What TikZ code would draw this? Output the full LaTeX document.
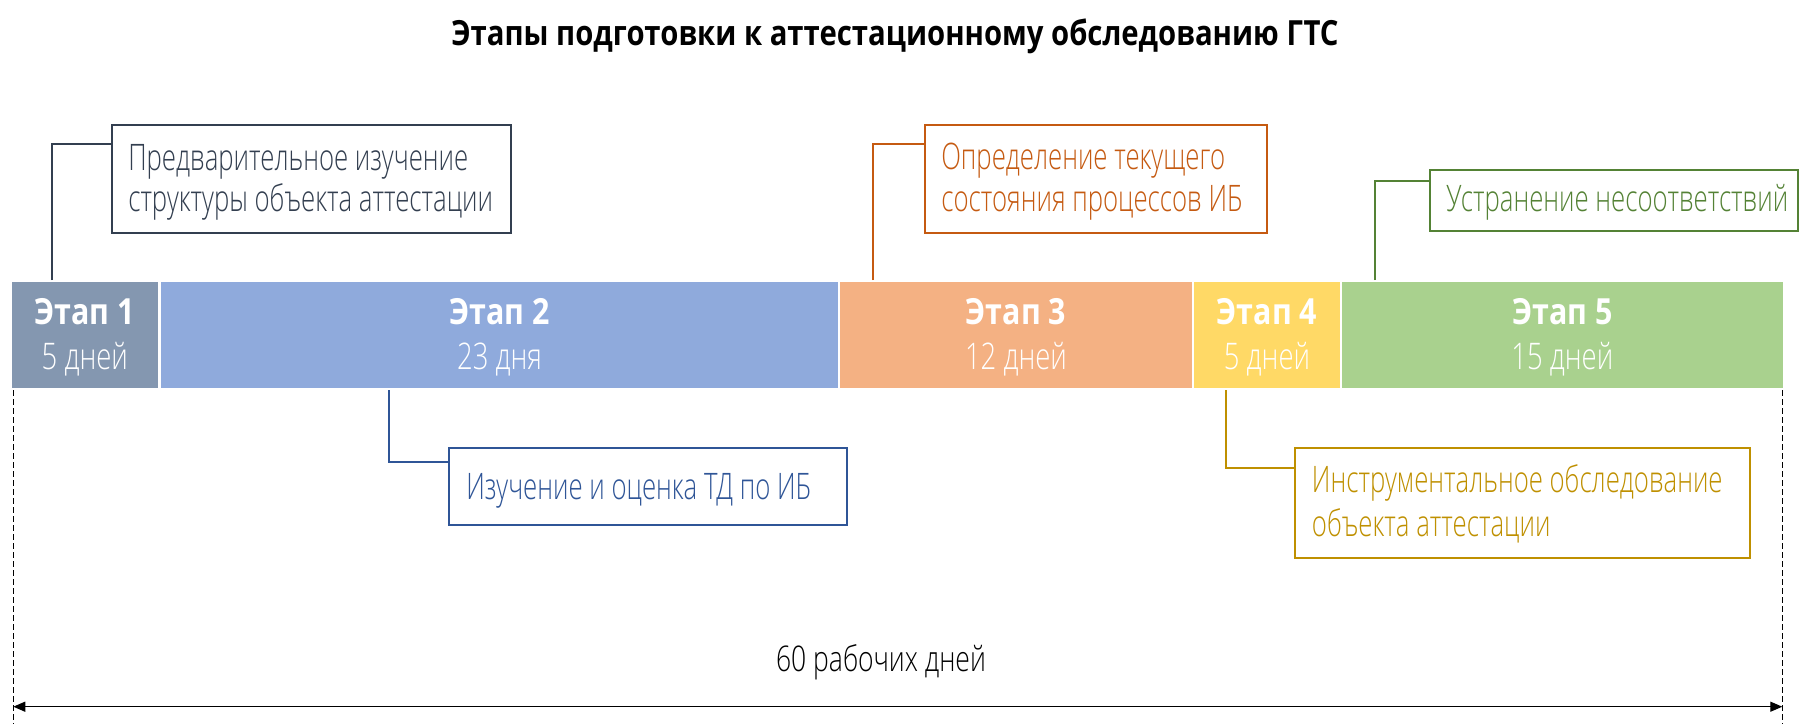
\documentclass[tikz,border=0pt]{standalone}
\usepackage{fontspec}
\setmainfont{Open Sans}
\newfontfamily\lightf{Open Sans}[UprightFont=* Light, FakeStretch=0.705]
\newfontfamily\dayf{Open Sans}[UprightFont=* Light, FakeStretch=0.75]
\newfontfamily\boldf{Open Sans}[FakeStretch=0.845]
\usetikzlibrary{fit,arrows.meta}
\definecolor{st1}{HTML}{8497B0}
\definecolor{st2}{HTML}{8FAADC}
\definecolor{st3}{HTML}{F4B183}
\definecolor{st4}{HTML}{FFD966}
\definecolor{st5}{HTML}{A9D18E}
\definecolor{c1}{HTML}{333F50}
\definecolor{c2}{HTML}{2F5597}
\definecolor{c3}{HTML}{C55A11}
\definecolor{c4}{HTML}{BF9000}
\definecolor{c5}{HTML}{548235}
\begin{document}
\begin{tikzpicture}[x=0.75pt,y=-0.75pt,
  stagebox/.style={inner sep=0pt, draw=none},
  callout/.style={draw, line width=1.6pt, inner sep=0pt, fill=white},
  lab/.style={anchor=base west, inner sep=0pt, font=\lightf\fontsize{27.4}{30}\selectfont},
  sthead/.style={anchor=base, inner sep=0pt, text=white, font=\boldf\bfseries\fontsize{27}{30}\selectfont},
  stdays/.style={anchor=base, inner sep=0pt, text=white, font=\dayf\fontsize{27.5}{30}\selectfont},
  conn/.style={line width=1.5pt},
  dimline/.style={dash pattern=on 4.5pt off 2.25pt, line width=0.75pt, black}
]
\useasboundingbox (0,0) rectangle (1806,724);

% title
\node[anchor=base, inner sep=0pt, font=\boldf\bfseries\fontsize{26}{30}\selectfont] (title) at (895,45.7) {Этапы подготовки к аттестационному обследованию ГТС};

% stages
\node[stagebox, fill=st1, fit={(12,282.3) (157.7,387.5)}] (s1) {};
\node[stagebox, fill=st2, fit={(161,282.3) (838,387.5)}] (s2) {};
\node[stagebox, fill=st3, fit={(840,282.3) (1192,387.5)}] (s3) {};
\node[stagebox, fill=st4, fit={(1194,282.3) (1340,387.5)}] (s4) {};
\node[stagebox, fill=st5, fit={(1342,282.3) (1782.7,387.5)}] (s5) {};

\node[sthead] (s1h) at (s1.center |- 0,324) {Этап 1};
\node[stdays] (s1d) at (s1.center |- 0,369) {5 дней};
\node[sthead] (s2h) at (s2.center |- 0,324) {Этап 2};
\node[stdays] (s2d) at (s2.center |- 0,369) {23 дня};
\node[sthead] (s3h) at (s3.center |- 0,324) {Этап 3};
\node[stdays] (s3d) at (s3.center |- 0,369) {12 дней};
\node[sthead] (s4h) at (s4.center |- 0,324) {Этап 4};
\node[stdays] (s4d) at (s4.center |- 0,369) {5 дней};
\node[sthead] (s5h) at (s5.center |- 0,324) {Этап 5};
\node[stdays] (s5d) at (s5.center |- 0,369) {15 дней};

% callout boxes
\node[callout, draw=c1, fit={(111.7,125) (511,232.7)}] (b1) {};
\node[lab, text=c1] (b1a) at (128,170) {Предварительное изучение};
\node[lab, text=c1] (b1b) at (128,211.7) {структуры объекта аттестации};

\node[callout, draw=c2, fit={(448.7,447.7) (847.3,525)}] (b2) {};
\node[lab, text=c2] (b2a) at (466,499) {Изучение и оценка ТД по ИБ};

\node[callout, draw=c3, fit={(925,125) (1267,232.7)}] (b3) {};
\node[lab, text=c3] (b3a) at (941,169.5) {Определение текущего};
\node[lab, text=c3] (b3b) at (941,211.7) {состояния процессов ИБ};

\node[callout, draw=c4, fit={(1294.7,448) (1750,557.7)}] (b4) {};
\node[lab, text=c4] (b4a) at (1311.7,492.3) {Инструментальное обследование};
\node[lab, text=c4] (b4b) at (1311.7,536.7) {объекта аттестации};

\node[callout, draw=c5, fit={(1430.3,170) (1798,230.7)}] (b5) {};
\node[lab, text=c5] (b5a) at (1446,211.7) {Устранение несоответствий};

% connectors
\coordinate (k1) at (51.7,280);   \coordinate (j1) at (b1.west |- 0,144);
\coordinate (k2) at (388.7,390);  \coordinate (j2) at (b2.west |- 0,462.3);
\coordinate (k3) at (873,280);    \coordinate (j3) at (b3.west |- 0,144);
\coordinate (k4) at (1225.7,390); \coordinate (j4) at (b4.west |- 0,468.3);
\coordinate (k5) at (1375,280);   \coordinate (j5) at (b5.west |- 0,181);
\draw[conn, c1] (k1) |- (j1);
\draw[conn, c2] (k2) |- (j2);
\draw[conn, c3] (k3) |- (j3);
\draw[conn, c4] (k4) |- (j4);
\draw[conn, c5] (k5) |- (j5);

% dimension
\coordinate (d1t) at (13.3,390);   \coordinate (d1b) at (13.3,724);
\coordinate (d2t) at (1782.3,390); \coordinate (d2b) at (1782.3,724);
\draw[dimline] (d1t) -- (d1b);
\draw[dimline] (d2t) -- (d2b);
\coordinate (a1) at (13.3,706.7);
\coordinate (a2) at (1782.3,706.7);
\draw[line width=1pt, {Triangle[length=9pt,width=7.5pt]}-{Triangle[length=9pt,width=7.5pt]}] (a1) -- (a2);
\node[anchor=base, inner sep=0pt, font=\dayf\fontsize{26.5}{30}\selectfont] (total) at (881,671.7) {60 рабочих дней};
\end{tikzpicture}
\end{document}
